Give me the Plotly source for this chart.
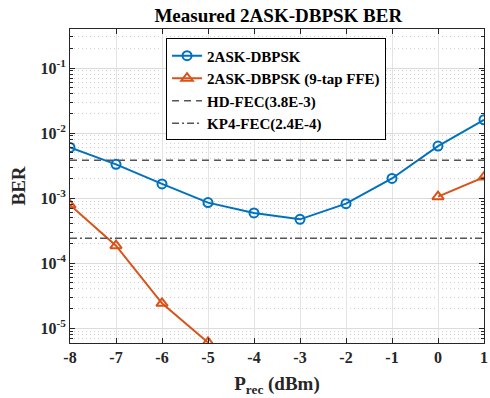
import plotly.graph_objects as go

x_prec = [-8, -7, -6, -5, -4, -3, -2, -1, 0, 1]
ber_plain = [6.0e-3, 3.3e-3, 1.65e-3, 8.5e-4, 5.9e-4, 4.7e-4, 8.2e-4, 2.0e-3, 6.3e-3, 1.6e-2]
x_ffe = [-8, -7, -6, -5, None, 0, 1]
ber_ffe = [7.8e-4, 1.85e-4, 2.4e-5, 6.0e-6, None, 1.05e-3, 2.1e-3]
hd_fec = 3.8e-3
kp4_fec = 2.4e-4
x_ticks = [-8, -7, -6, -5, -4, -3, -2, -1, 0, 1]
x_ticktext = ["-8", "-7", "-6", "-5", "-4", "-3", "-2", "-1", "0", "1"]
y_ticks = [1e-5, 1e-4, 1e-3, 1e-2, 1e-1]
y_ticktext = ["10<sup>-5</sup>", "10<sup>-4</sup>", "10<sup>-3</sup>", "10<sup>-2</sup>", "10<sup>-1</sup>"]

FONT = "Liberation Serif"
BLUE = "#0072BD"
ORANGE = "#D95319"
GRAY = "#555555"

fig = go.Figure()
fig.add_trace(go.Scatter(
    x=x_prec, y=ber_plain, mode="lines+markers", name="<b>2ASK-DBPSK</b>",
    line=dict(color=BLUE, width=2),
    marker=dict(symbol="circle-open", size=9, color=BLUE, line=dict(width=2)),
))
fig.add_trace(go.Scatter(
    x=x_ffe, y=ber_ffe, mode="lines+markers", name="<b>2ASK-DBPSK (9-tap FFE)</b>",
    connectgaps=False,
    line=dict(color=ORANGE, width=2),
    marker=dict(symbol="triangle-up-open", size=10, color=ORANGE, line=dict(width=2)),
))
fig.add_trace(go.Scatter(
    x=[x_ticks[0], x_ticks[-1]], y=[hd_fec, hd_fec], mode="lines", name="<b>HD-FEC(3.8E-3)</b>",
    line=dict(color=GRAY, width=1.5, dash="7px,5px"),
))
fig.add_trace(go.Scatter(
    x=[x_ticks[0], x_ticks[-1]], y=[kp4_fec, kp4_fec], mode="lines", name="<b>KP4-FEC(2.4E-4)</b>",
    line=dict(color=GRAY, width=1.5, dash="7px,3px,2px,3px"),
))

fig.update_layout(
    width=490, height=398,
    margin=dict(l=70, r=2, t=29, b=55),
    paper_bgcolor="white", plot_bgcolor="white",
    font=dict(family=FONT, size=16, color="#262626"),
    title=dict(text="<b>Measured 2ASK-DBPSK BER</b>", x=0.568, xanchor="center", y=0.962, yanchor="middle",
               font=dict(family=FONT, size=19, color="black")),
    showlegend=True,
    legend=dict(x=0.232, y=0.97, xanchor="left", yanchor="top",
                bgcolor="white", bordercolor="black", borderwidth=1,
                font=dict(family=FONT, size=15, color="black"),
                tracegroupgap=0, itemwidth=30),
)
fig.update_xaxes(
    range=[-8, 1], tickvals=x_ticks, ticktext=["<b>%s</b>" % t for t in x_ticktext],
    ticklabeloverflow="allow",
    showgrid=True, gridcolor="#e3e3e3", gridwidth=1,
    showline=True, linecolor="#262626", linewidth=1, mirror="ticks",
    ticks="inside", ticklen=5, tickcolor="#262626", zeroline=False,
    tickfont=dict(family=FONT, size=16, color="#262626"),
    title=dict(text="<b>P<sub>rec</sub> (dBm)</b>", standoff=11, font=dict(family=FONT, size=19, color="#262626")),
)
fig.update_yaxes(
    type="log", range=[-5.23, -0.4], tickvals=y_ticks, ticktext=["<b>%s</b>" % t for t in y_ticktext],
    showgrid=True, gridcolor="#dcdcdc", gridwidth=1,
    showline=True, linecolor="#262626", linewidth=1, mirror="ticks",
    ticks="inside", ticklen=5, tickcolor="#262626", zeroline=False,
    minor=dict(dtick="D1", showgrid=True, gridcolor="#d0d0d0", griddash="1px,3px", ticks="inside", ticklen=3, tickcolor="#262626"),
    tickfont=dict(family=FONT, size=16, color="#262626"),
    title=dict(text="<b>BER</b>", standoff=9, font=dict(family=FONT, size=19, color="#262626")),
)

fig.write_html("out.html", config={"displayModeBar": False},
               post_script="document.body.style.margin='0';document.body.style.overflow='hidden';")
